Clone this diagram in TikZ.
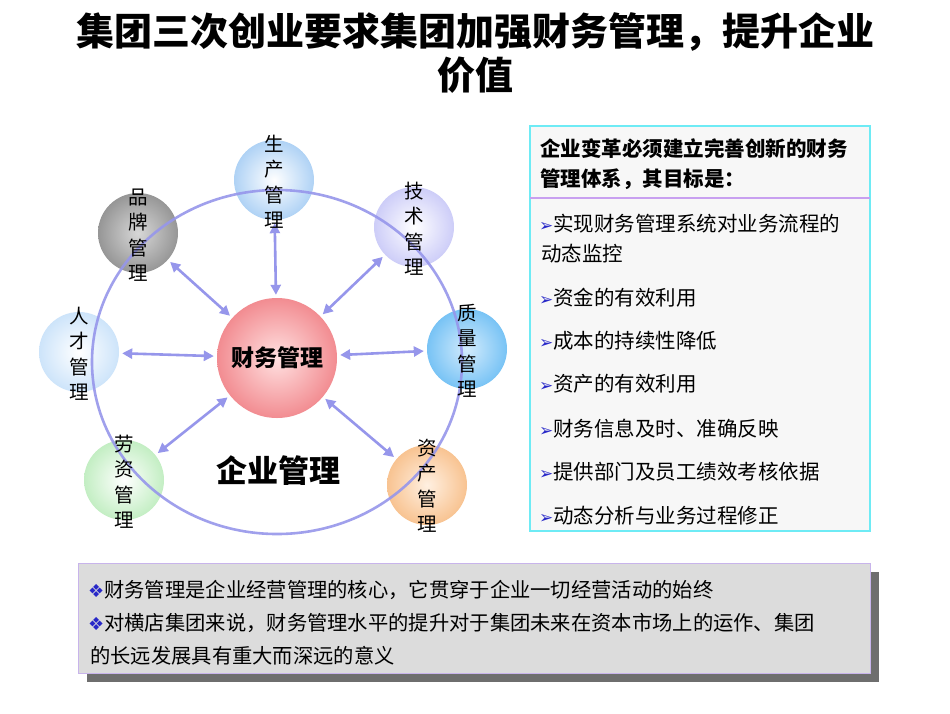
\documentclass[tikz,border=0pt]{standalone}
\usepackage{fontspec}
\setmainfont{Noto Sans CJK SC}
\newfontfamily\symf{DejaVu Sans}
\usetikzlibrary{arrows.meta,shadings}
\definecolor{arr}{RGB}{150,150,235}
\definecolor{bluebul}{RGB}{40,40,200}
\definecolor{cscout}{RGB}{175,210,245}
\definecolor{cppin}{RGB}{215,215,215}
\definecolor{cppout}{RGB}{150,150,150}
\definecolor{cjsout}{RGB}{205,205,248}
\definecolor{crcout}{RGB}{205,228,250}
\definecolor{czlin}{RGB}{210,235,252}
\definecolor{czlout}{RGB}{120,195,245}
\definecolor{clzout}{RGB}{195,238,195}
\definecolor{czcin}{RGB}{255,240,225}
\definecolor{czcout}{RGB}{248,195,145}
\definecolor{ccwin}{RGB}{255,225,225}
\definecolor{ccwout}{RGB}{242,140,145}
\definecolor{cyanb}{RGB}{110,235,245}
\definecolor{boxfill}{RGB}{247,247,247}
\definecolor{purl}{RGB}{200,160,240}
\definecolor{shad}{RGB}{110,110,110}
\definecolor{lavb}{RGB}{200,180,235}
\definecolor{bgray}{RGB}{220,220,220}
\tikzset{
 sat/.style={circle,minimum size=80pt,inner sep=0pt},
 vtxt/.style={align=center,font=\fontsize{19.5}{25.5}\selectfont,inner sep=0pt},
 link/.style={arr,line width=2.6pt,{Triangle[length=10pt,width=10pt]}-{Triangle[length=10pt,width=10pt]},shorten <=3pt,shorten >=3pt},
 item/.style={anchor=west,inner sep=0pt,font=\fontsize{20.5}{27}\selectfont},
 btxt/.style={anchor=west,inner sep=0pt,font=\fontsize{20.3}{24}\selectfont},
}
\newcommand{\arw}{{\color{bluebul}\symf\fontsize{17}{17}\selectfont ➢}}
\newcommand{\dia}{{\color{bluebul}\symf\fontsize{18}{18}\selectfont ❖}}
\begin{document}
\begin{tikzpicture}[x=1pt,y=-1pt]
\useasboundingbox[fill=white] (0,0) rectangle (950,713);
\node[font=\bfseries\fontsize{38}{44}\selectfont,align=center] (title) at (475,53) {集团三次创业要求集团加强财务管理，提升企业\\价值};
% circles
\shade[inner color=white,outer color=cscout] (274,180) circle (40);
\node[sat] (sc) at (274,180) {};
\shade[inner color=cppin,outer color=cppout] (138,233) circle (40);
\node[sat] (pp) at (138,233) {};
\shade[inner color=white,outer color=cjsout] (414,227) circle (40);
\node[sat] (js) at (414,227) {};
\shade[inner color=white,outer color=crcout] (79,352) circle (40);
\node[sat] (rc) at (79,352) {};
\shade[inner color=czlin,outer color=czlout] (467,349) circle (40);
\node[sat] (zl) at (467,349) {};
\shade[inner color=white,outer color=clzout] (124,480) circle (40);
\node[sat] (lz) at (124,480) {};
\shade[inner color=czcin,outer color=czcout] (427,485) circle (40);
\node[sat] (zc) at (427,485) {};
\shade[inner color=ccwin,outer color=ccwout] (277,358) circle (60);
\node[circle,minimum size=120pt,inner sep=0pt,font=\bfseries\fontsize{23}{26}\selectfont] (cw) at (277,358) {财务管理};
% big ellipse
\draw[arr,line width=2.6pt,opacity=.9] (277,362) ellipse (185 and 172);
% links
\draw[link] (cw) -- (sc);
\draw[link] (cw) -- (pp);
\draw[link] (cw) -- (js);
\draw[link] (cw) -- (rc);
\draw[link] (cw) -- (zl);
\draw[link] (cw) -- (lz);
\draw[link] (cw) -- (zc);
% labels
\node[vtxt] (tsc) at (274,182) {生\\产\\管\\理};
\node[vtxt] (tpp) at (138,235) {品\\牌\\管\\理};
\node[vtxt] (tjs) at (414,229) {技\\术\\管\\理};
\node[vtxt] (trc) at (79,354) {人\\才\\管\\理};
\node[vtxt] (tzl) at (467,351) {质\\量\\管\\理};
\node[vtxt] (tlz) at (124,482) {劳\\资\\管\\理};
\node[vtxt] (tzc) at (427,486) {资\\产\\管\\理};
\node[font=\bfseries\fontsize{31}{34}\selectfont] (qy) at (278,471) {企业管理};
% right box
\draw[draw=cyanb,line width=2.5pt,fill=boxfill] (530,126) rectangle (870,531);
\node[anchor=north west,align=left,inner sep=0pt,font=\bfseries\fontsize{20.5}{30}\selectfont] (hdr) at (540,138) {企业变革必须建立完善创新的财务\\管理体系，其目标是：};
\draw[draw=purl,line width=2.2pt] (530,198) -- (870,198);
\node[item] (i1) at (539,224) {\arw 实现财务管理系统对业务流程的};
\node[item] (i1b) at (541,254) {动态监控};
\node[item] (i2) at (539,298) {\arw 资金的有效利用};
\node[item] (i3) at (539,341) {\arw 成本的持续性降低};
\node[item] (i4) at (539,384) {\arw 资产的有效利用};
\node[item] (i5) at (539,429) {\arw 财务信息及时、准确反映};
\node[item] (i6) at (539,472) {\arw 提供部门及员工绩效考核依据};
\node[item] (i7) at (539,516) {\arw 动态分析与业务过程修正};
% bottom box
\fill[shad] (87,572) rectangle (879,682);
\draw[draw=lavb,line width=1pt,fill=bgray] (78,563) rectangle (870,673);
\node[btxt] (b1) at (88,590) {\dia 财务管理是企业经营管理的核心，它贯穿于企业一切经营活动的始终};
\node[btxt] (b2) at (88,623) {\dia 对横店集团来说，财务管理水平的提升对于集团未来在资本市场上的运作、集团};
\node[btxt] (b3) at (90,656) {的长远发展具有重大而深远的意义};
\end{tikzpicture}
\end{document}
